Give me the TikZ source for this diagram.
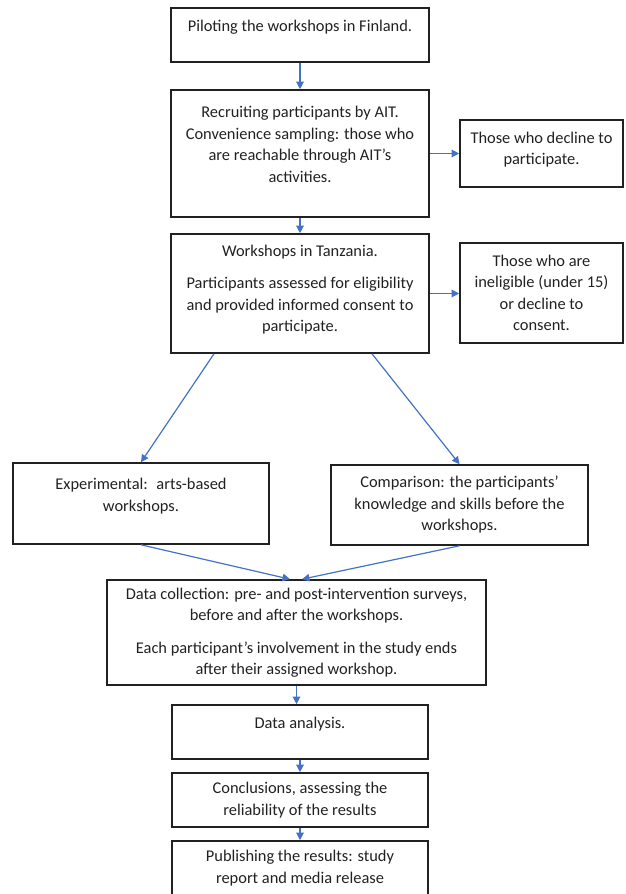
\documentclass[tikz,border=0pt]{standalone}
\usepackage{fontspec}
\setmainfont{Carlito}
\usetikzlibrary{arrows.meta}
\definecolor{flowblue}{rgb}{0.267, 0.447, 0.769}
\definecolor{inkgrey}{rgb}{0.13, 0.13, 0.13}
\tikzset{stage/.style={draw=inkgrey, line width=1.6pt, align=center, inner sep=0pt, text=inkgrey, font=\fontsize{16.4}{21.5}\selectfont}}
\tikzset{flow/.style={-{Triangle[length=7.5pt, width=7.5pt]}, line width=1.2pt, color=flowblue}}

\begin{document}
\begin{tikzpicture}[x=1pt, y=-1pt]%{{{
        \useasboundingbox (0, 0) rectangle (625, 894);

        \node[stage, minimum width=258pt, minimum height=54pt, text depth=18pt] (pilot) at (300, 35)
        {Piloting the workshops in Finland.};
        \node[stage, minimum width=258pt, minimum height=127pt, text depth=18pt] (recruit) at (300, 153.5)
        {Recruiting participants by AIT.\\ Convenience sampling: those who\\ are reachable through AIT’s\\ activities.};
        \node[stage, minimum width=163pt, minimum height=67pt, text depth=10pt] (decline) at (541.5, 153.5)
        {Those who decline to\\ participate.};
        \node[stage, minimum width=258pt, minimum height=119pt, text depth=10pt] (tanz) at (300, 293.5)
        {Workshops in Tanzania.\\[11pt] Participants assessed for eligibility\\ and provided informed consent to\\ participate.};
        \node[stage, minimum width=163pt, minimum height=100pt] (inelig) at (541.5, 293)
        {Those who are\\ ineligible (under 15)\\ or decline to\\ consent.};

        \node[stage, minimum width=256pt, minimum height=81pt, text depth=17pt] (expt) at (141, 503.5)
        {Experimental: \ arts-based\\ workshops.};
        \node[stage, minimum width=257pt, minimum height=80pt] (comp) at (459.5, 505)
        {Comparison: the participants’\\ knowledge and skills before the\\ workshops.};
        \node[stage, minimum width=379pt, minimum height=105pt] (datac) at (296.5, 632.5)
        {Data collection: pre- and post-intervention surveys,\\ before and after the workshops.\\[11pt] Each participant’s involvement in the study ends\\ after their assigned workshop.};

        \node[stage, minimum width=256pt, minimum height=54pt, text depth=18pt] (analysis) at (300, 732)
        {Data analysis.};
        \node[stage, minimum width=256pt, minimum height=54pt] (concl) at (300, 800)
        {Conclusions, assessing the\\ reliability of the results};
        \node[stage, minimum width=256pt, minimum height=54pt] (publish) at (300, 868)
        {Publishing the results: study\\ report and media release};

        \draw [flow] (pilot) -- (recruit);
        \draw [flow] (recruit.east) -- (recruit.east -| decline.west);
        \draw [flow] (recruit) -- (tanz);
        \draw [flow] (tanz.east) -- (tanz.east -| inelig.west);
        \draw [flow] ([xshift=-86pt]tanz.south) -- (expt.north);
        \draw [flow] ([xshift=72pt]tanz.south) -- (comp.north);
        \draw [flow] (expt.south) -- ([xshift=-6.5pt]datac.north);
        \draw [flow] (comp.south) -- ([xshift=5.5pt]datac.north);
        \draw [flow] (datac.south) -- (datac.south |- analysis.north);
        \draw [flow] (analysis) -- (concl);
        \draw [flow] (concl) -- (publish);
\end{tikzpicture}
\end{document}
